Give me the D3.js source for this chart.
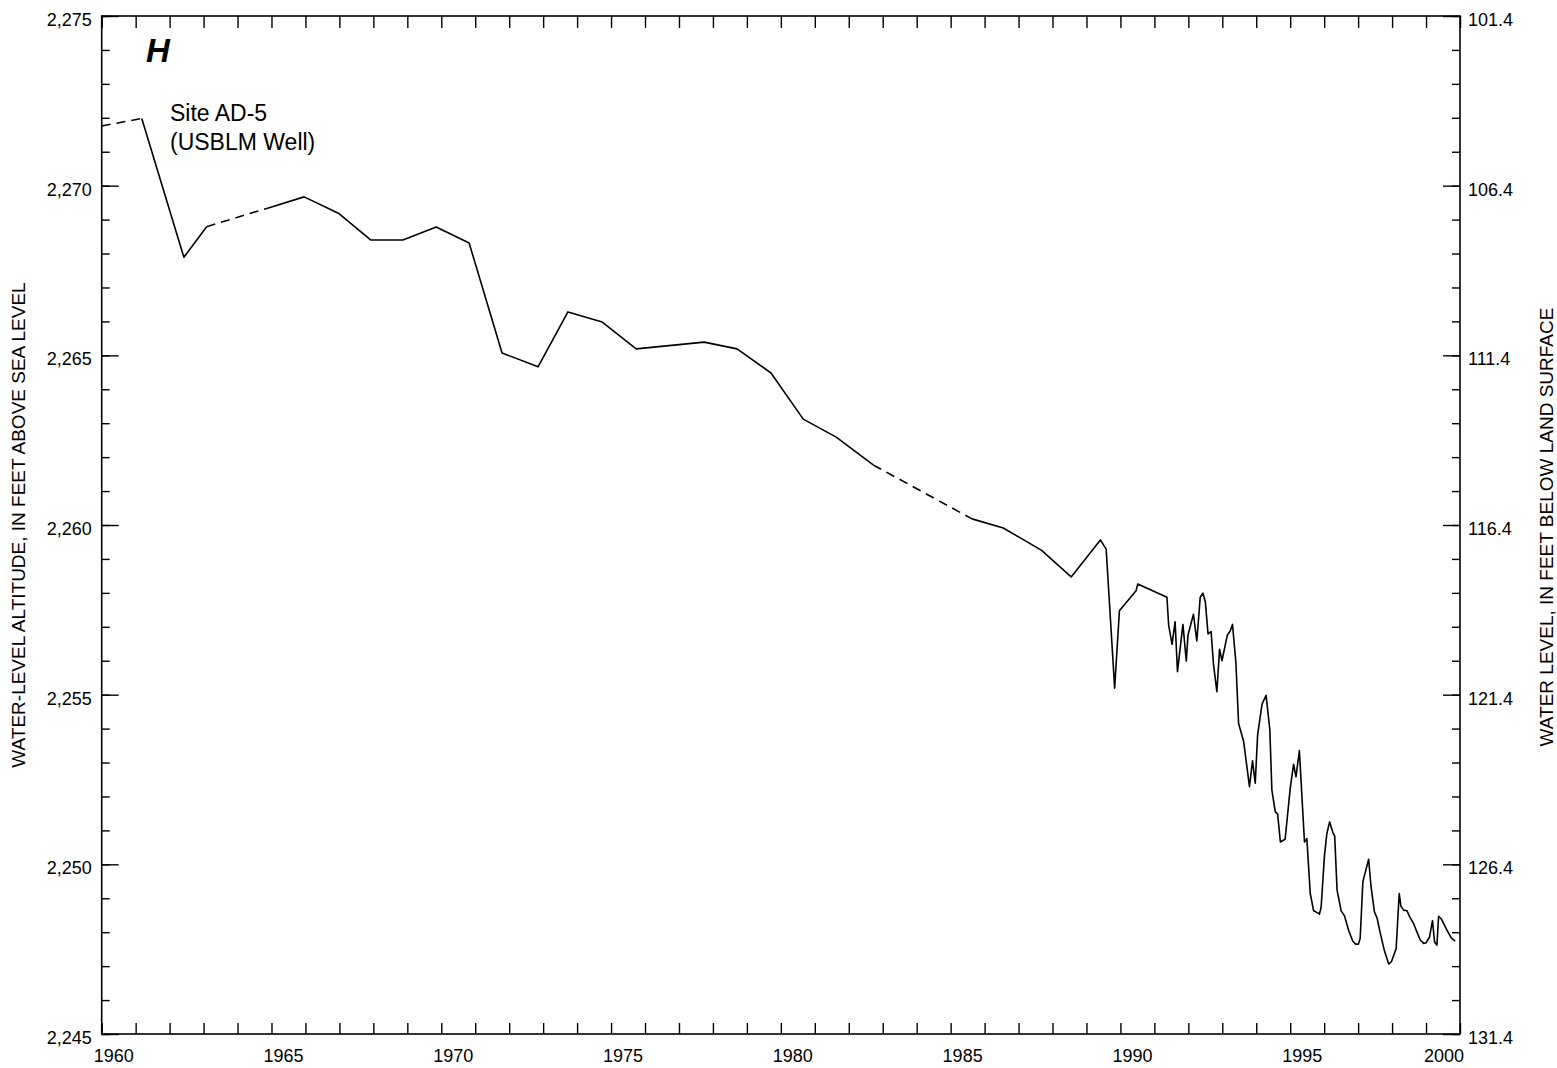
<!DOCTYPE html>
<html>
<head>
<meta charset="utf-8">
<script src="https://cdn.jsdelivr.net/npm/d3@7"></script>
<style>
  html, body { margin: 0; padding: 0; background: #fff; }
  svg { display: block; font-family: "Liberation Sans", Arial, Helvetica, sans-serif; }
</style>
</head>
<body>
<svg id="chart" width="1557" height="1068"></svg>
<script>
// Water-level record, site AD-5 (USBLM well): decimal year and altitude (ft above sea level)
const dates = [
  1960.00, 1961.18, 1962.42, 1963.09, 1964.86, 1965.96, 1966.97, 1967.92, 1968.87, 1969.85,
  1970.82, 1971.79, 1972.85, 1973.73, 1974.74, 1975.74, 1977.74, 1978.71, 1979.71, 1980.66,
  1981.63, 1982.72, 1985.63, 1986.55, 1987.67, 1988.55, 1989.41, 1989.58, 1989.83, 1989.97,
  1990.46, 1990.51, 1991.37, 1991.42, 1991.52, 1991.61, 1991.68, 1991.84, 1991.94, 1991.99,
  1992.15, 1992.25, 1992.35, 1992.43, 1992.50, 1992.58, 1992.67, 1992.74, 1992.84, 1992.92,
  1992.99, 1993.15, 1993.23, 1993.30, 1993.40, 1993.48, 1993.63, 1993.80, 1993.89, 1993.97,
  1994.04, 1994.17, 1994.29, 1994.40, 1994.46, 1994.56, 1994.63, 1994.71, 1994.85, 1995.00,
  1995.10, 1995.17, 1995.27, 1995.42, 1995.49, 1995.59, 1995.69, 1995.81, 1995.86, 1995.91,
  1996.01, 1996.08, 1996.16, 1996.26, 1996.31, 1996.38, 1996.50, 1996.60, 1996.72, 1996.84,
  1996.92, 1997.01, 1997.06, 1997.14, 1997.24, 1997.31, 1997.38, 1997.48, 1997.56, 1997.65,
  1997.77, 1997.90, 1997.98, 1998.12, 1998.21, 1998.26, 1998.34, 1998.44, 1998.52, 1998.63,
  1998.73, 1998.83, 1998.93, 1999.00, 1999.10, 1999.19, 1999.25, 1999.32, 1999.37, 1999.45,
  1999.60, 1999.74, 1999.86
];
const altitude = [
  2271.76, 2271.98, 2267.89, 2268.79, 2269.33, 2269.67, 2269.19, 2268.40, 2268.40, 2268.78,
  2268.31, 2265.07, 2264.66, 2266.28, 2265.98, 2265.19, 2265.39, 2265.19, 2264.48, 2263.12,
  2262.59, 2261.77, 2260.18, 2259.91, 2259.26, 2258.47, 2259.56, 2259.29, 2255.19, 2257.47,
  2258.06, 2258.26, 2257.87, 2257.05, 2256.48, 2257.15, 2255.68, 2257.07, 2255.99, 2256.76,
  2257.37, 2256.58, 2257.87, 2257.99, 2257.74, 2256.79, 2256.86, 2255.90, 2255.09, 2256.34,
  2256.00, 2256.76, 2256.87, 2257.07, 2255.95, 2254.15, 2253.61, 2252.29, 2253.05, 2252.39,
  2253.81, 2254.72, 2254.98, 2253.96, 2252.19, 2251.55, 2251.48, 2250.66, 2250.74, 2252.24,
  2252.95, 2252.58, 2253.35, 2250.66, 2250.76, 2249.14, 2248.63, 2248.57, 2248.53, 2248.73,
  2250.27, 2250.91, 2251.25, 2250.93, 2250.83, 2249.24, 2248.63, 2248.48, 2248.06, 2247.74,
  2247.65, 2247.65, 2247.82, 2249.49, 2249.88, 2250.15, 2249.34, 2248.60, 2248.41, 2247.98,
  2247.47, 2247.06, 2247.13, 2247.52, 2249.14, 2248.77, 2248.65, 2248.63, 2248.45, 2248.26,
  2248.01, 2247.77, 2247.67, 2247.69, 2247.85, 2248.34, 2247.72, 2247.62, 2248.47, 2248.39,
  2248.09, 2247.83, 2247.74
];
// Segments beginning at these dates are estimated (drawn dashed)
const estimatedFrom = [1960.00, 1963.09, 1982.72];

const yearLabels = [1960, 1965, 1970, 1975, 1980, 1985, 1990, 1995, 2000];
const altitudeLabels = [2245, 2250, 2255, 2260, 2265, 2270, 2275];
const depthLabels = ["131.4", "126.4", "121.4", "116.4", "111.4", "106.4", "101.4"];

const leftTitle = "WATER-LEVEL ALTITUDE, IN FEET ABOVE SEA LEVEL";
const rightTitle = "WATER LEVEL, IN FEET BELOW LAND SURFACE";

// Plot frame
const frame = { left: 101.7, right: 1460, top: 16, bottom: 1034 };
const svg = d3.select("#chart");

const x = d3.scaleLinear().domain([1960, 2000]).range([frame.left, frame.right]);
const y = d3.scaleLinear().domain([2245, 2275]).range([frame.bottom, frame.top]);

const yearTicks = d3.range(1960, 2001);
const minorAlt = d3.range(2245, 2276);

function styleAxis(g) {
  g.select(".domain").remove();
  g.selectAll(".tick line").attr("stroke", "#000").attr("stroke-width", 1.4);
  g.selectAll(".tick text").remove();
}

// Year ticks, inward on bottom and top
svg.append("g").attr("transform", `translate(0,${frame.bottom})`)
  .call(d3.axisBottom(x).tickValues(yearTicks).tickSizeInner(-11).tickSizeOuter(0)).call(styleAxis);
svg.append("g").attr("transform", `translate(0,${frame.top})`)
  .call(d3.axisTop(x).tickValues(yearTicks).tickSizeInner(-12).tickSizeOuter(0)).call(styleAxis);

// Altitude ticks: minor each foot, major every five feet
svg.append("g").attr("transform", `translate(${frame.left},0)`)
  .call(d3.axisLeft(y).tickValues(minorAlt).tickSizeInner(-8).tickSizeOuter(0)).call(styleAxis);
svg.append("g").attr("transform", `translate(${frame.left},0)`)
  .call(d3.axisLeft(y).tickValues(altitudeLabels).tickSizeInner(-17).tickSizeOuter(0)).call(styleAxis);
svg.append("g").attr("transform", `translate(${frame.right},0)`)
  .call(d3.axisRight(y).tickValues(minorAlt).tickSizeInner(-8).tickSizeOuter(0)).call(styleAxis);
svg.append("g").attr("transform", `translate(${frame.right},0)`)
  .call(d3.axisRight(y).tickValues(altitudeLabels).tickSizeInner(-17).tickSizeOuter(0)).call(styleAxis);

// Frame
svg.append("rect")
  .attr("x", frame.left).attr("y", frame.top)
  .attr("width", frame.right - frame.left).attr("height", frame.bottom - frame.top)
  .attr("fill", "none").attr("stroke", "#000").attr("stroke-width", 1.6);

// Tick labels
svg.append("g").selectAll("text").data(yearLabels).join("text")
  .attr("x", (d, i) => x(d) + (i === yearLabels.length - 1 ? -16 : 12))
  .attr("y", frame.bottom + 28)
  .attr("text-anchor", "middle").attr("font-size", 18).attr("fill", "#000")
  .text(d => d);

svg.append("g").selectAll("text").data(altitudeLabels).join("text")
  .attr("x", frame.left - 10).attr("y", d => y(d) + 10)
  .attr("text-anchor", "end").attr("font-size", 18).attr("fill", "#000")
  .text(d => d3.format(",")(d));

svg.append("g").selectAll("text").data(depthLabels).join("text")
  .attr("x", frame.right + 8).attr("y", (d, i) => y(altitudeLabels[i]) + 10)
  .attr("text-anchor", "start").attr("font-size", 18).attr("fill", "#000")
  .text(d => d);

// Axis titles
svg.append("text")
  .attr("transform", `translate(25,525) rotate(-90)`)
  .attr("text-anchor", "middle").attr("font-size", 19).attr("fill", "#000")
  .text(leftTitle);
svg.append("text")
  .attr("transform", `translate(1553,527) rotate(-90)`)
  .attr("text-anchor", "middle").attr("font-size", 19).attr("fill", "#000")
  .text(rightTitle);

// Hydrograph: split into runs of measured (solid) and estimated (dashed) segments
const pts = dates.map((d, i) => ({ t: d, v: altitude[i] }));
const runs = [];
for (let i = 0; i < pts.length - 1; i++) {
  const dashed = estimatedFrom.includes(pts[i].t);
  const last = runs[runs.length - 1];
  if (last && last.dashed === dashed) last.pts.push(pts[i + 1]);
  else runs.push({ dashed, pts: [pts[i], pts[i + 1]] });
}
const line = d3.line().x(d => x(d.t)).y(d => y(d.v));
svg.append("g").selectAll("path").data(runs).join("path")
  .attr("d", d => line(d.pts))
  .attr("fill", "none").attr("stroke", "#000").attr("stroke-width", 1.6)
  .attr("stroke-linejoin", "round")
  .attr("stroke-dasharray", d => d.dashed ? "9,6" : null);

// Panel letter and site label
svg.append("text").attr("x", 146).attr("y", 62)
  .attr("font-size", 33).attr("font-weight", "bold").attr("font-style", "italic").attr("fill", "#000")
  .text("H");
const site = svg.append("text").attr("font-size", 23).attr("fill", "#000");
site.append("tspan").attr("x", 170).attr("y", 120.5).text("Site AD-5");
site.append("tspan").attr("x", 170).attr("y", 150).text("(USBLM Well)");
</script>
</body>
</html>
